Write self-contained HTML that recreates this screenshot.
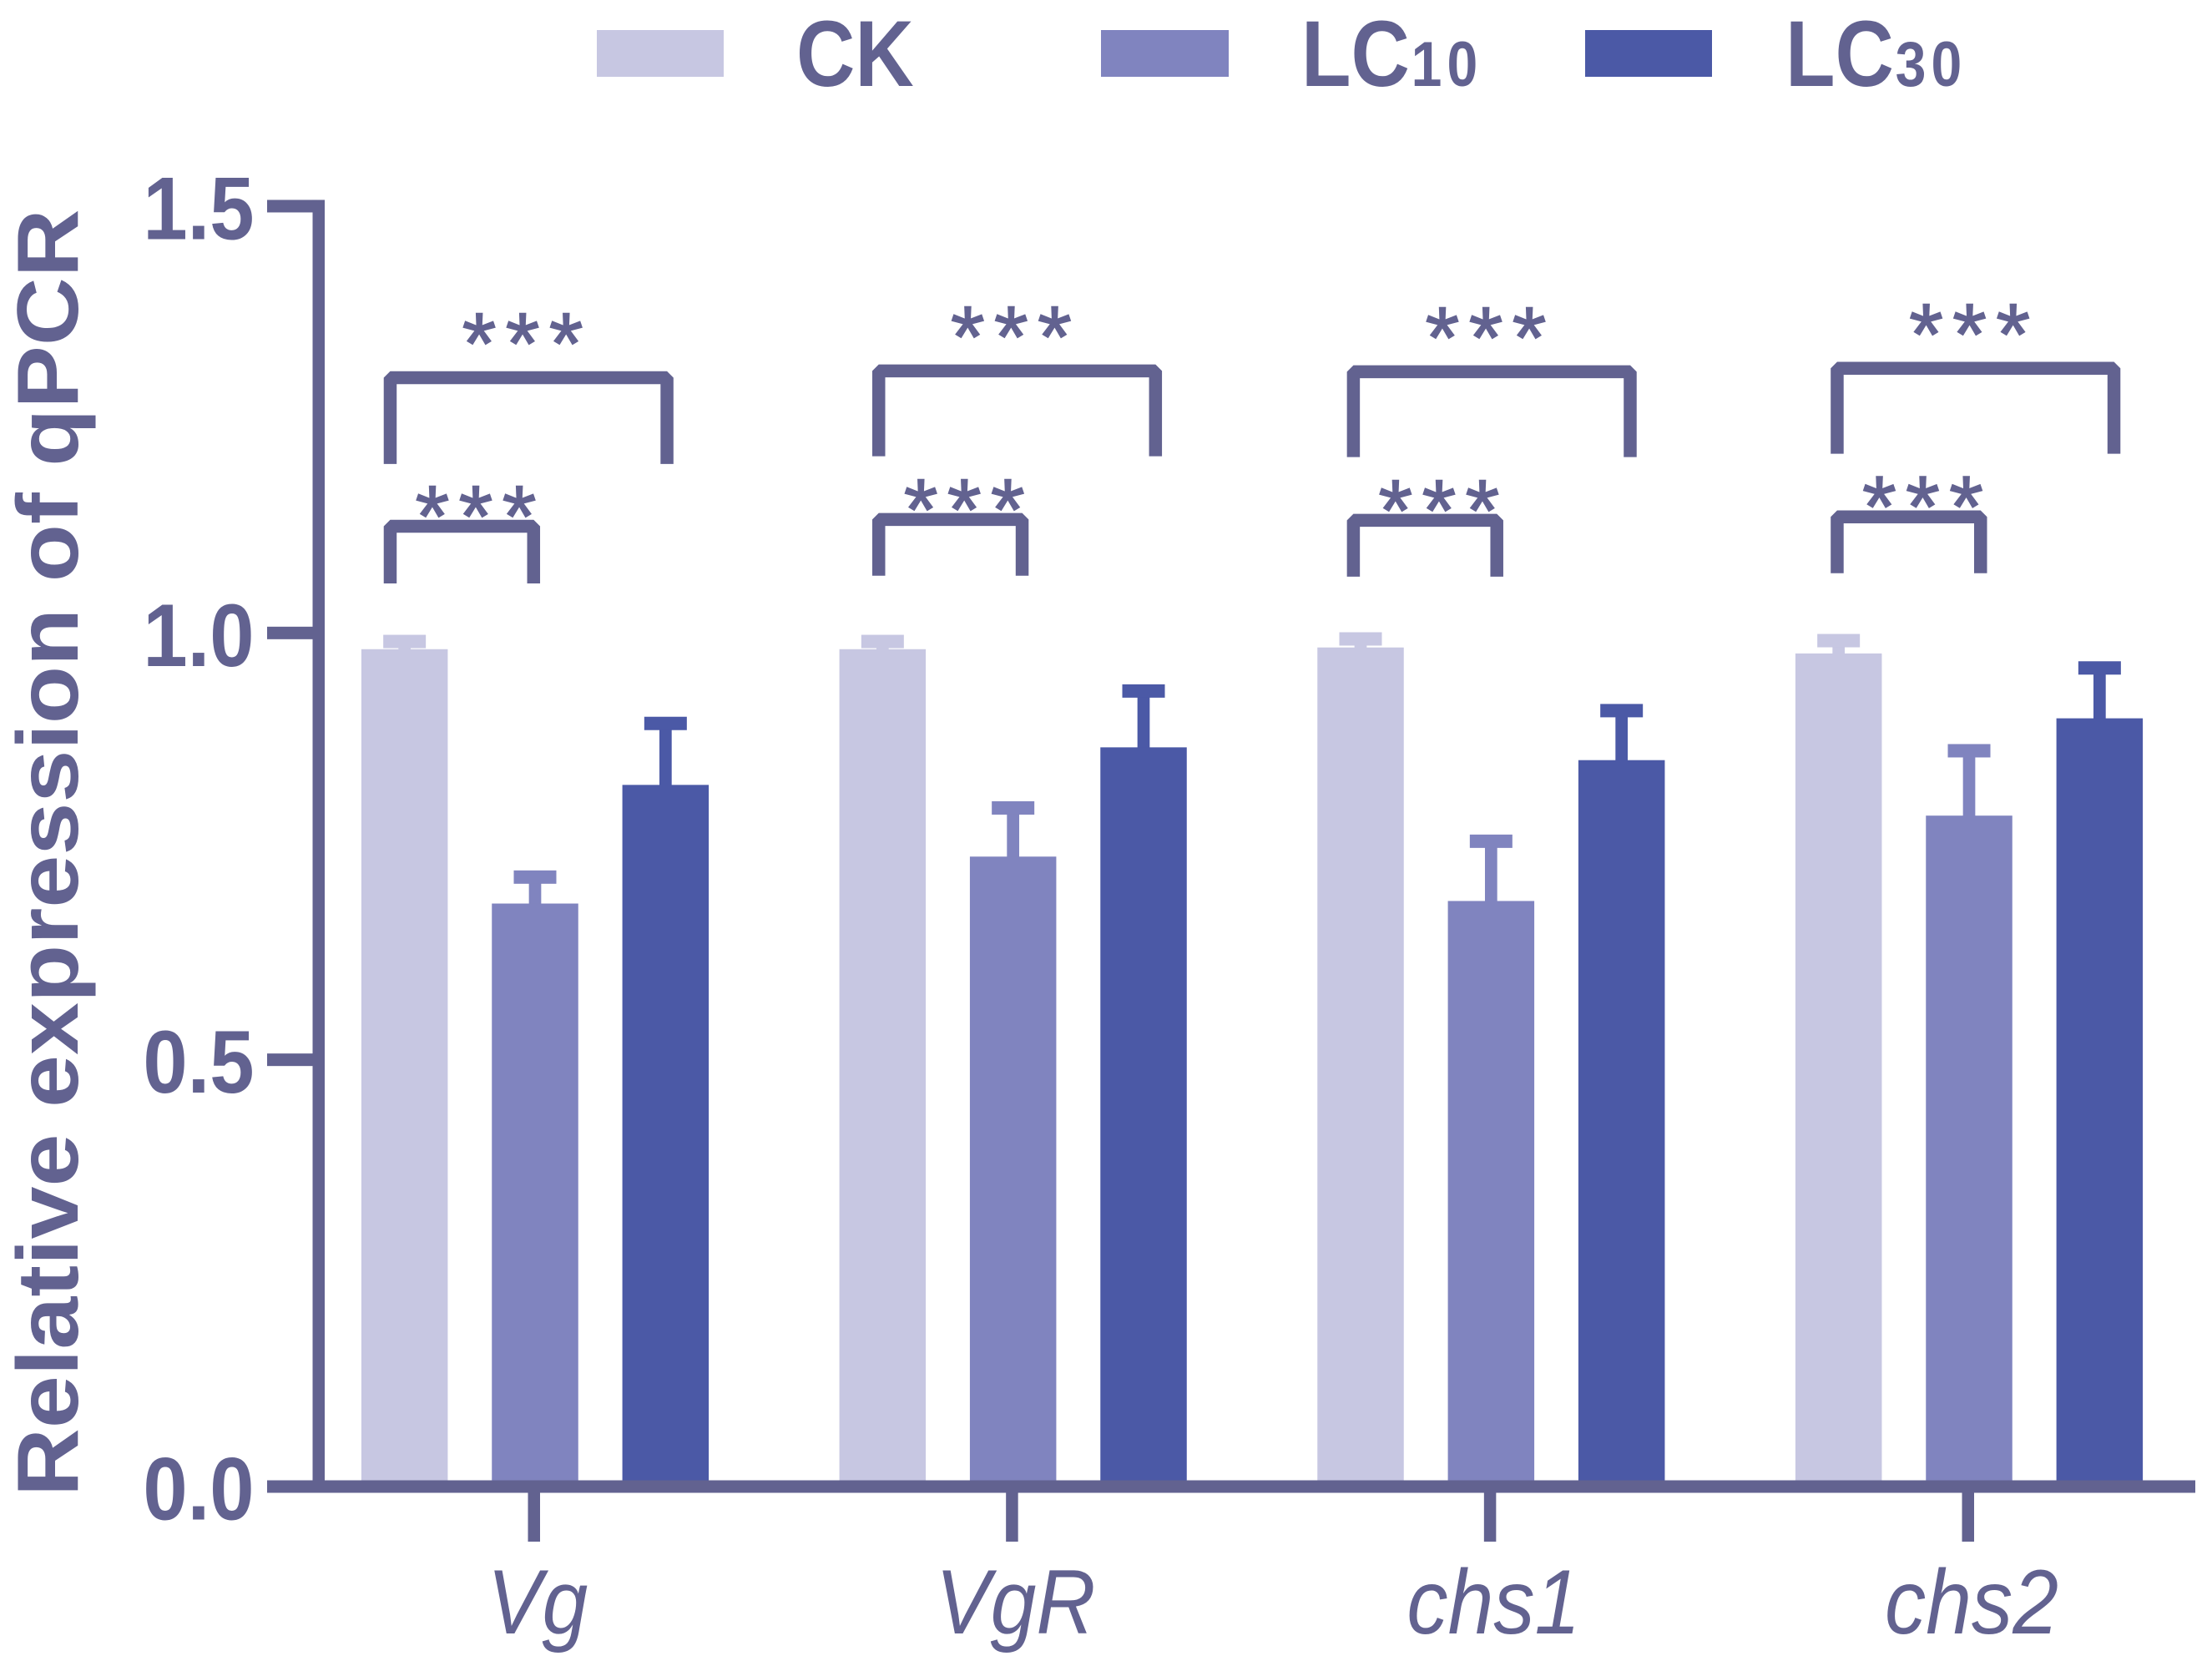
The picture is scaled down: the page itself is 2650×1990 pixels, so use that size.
<!DOCTYPE html>
<html lang="en">
<head>
<meta charset="utf-8">
<title>Relative expression of qPCR</title>
<style>
html,body{margin:0;padding:0;background:#fff;}
svg{display:block;}
text{font-family:"Liberation Sans",sans-serif;fill:#626290;}
</style>
</head>
<body>
<svg id="chart" xmlns="http://www.w3.org/2000/svg" width="2650" height="1990" viewBox="0 0 2650 1990">
  <rect x="0" y="0" width="2650" height="1990" fill="#ffffff"/>
  <g>
    <g>
      <rect x="715" y="36" width="152" height="56" fill="#c7c7e2"/>
      <text transform="translate(954,103) scale(0.87,1)" font-size="112" font-weight="700">CK</text>
    </g>
    <g>
      <rect x="1319" y="36" width="153" height="56" fill="#8084bf"/>
      <text transform="translate(1559,103) scale(0.87,1)" font-size="112" font-weight="700">LC<tspan font-size="76" dx="2" letter-spacing="7">10</tspan></text>
    </g>
    <g>
      <rect x="1899" y="36" width="152" height="56" fill="#4b59a6"/>
      <text transform="translate(2139,103) scale(0.87,1)" font-size="112" font-weight="700">LC<tspan font-size="76" dx="2" letter-spacing="7">30</tspan></text>
    </g>
  </g>
  <text transform="translate(93,1793) rotate(-90) scale(1,0.92)" font-size="113.3" font-weight="700">Relative expression of qPCR</text>
  <g id="marks"></g>
  <g id="annotations"></g>
  <g id="axes"></g>
</svg>
<script>
const categories = ['Vg', 'VgR', 'chs1', 'chs2'];
const seriesNames = ['CK', 'LC10', 'LC30'];
const ckValues = [0.981, 0.981, 0.983, 0.976];
const lc10Values = [0.683, 0.738, 0.686, 0.786];
const lc30Values = [0.822, 0.866, 0.851, 0.900];
const ckErrors = [0.009, 0.009, 0.010, 0.015];
const lc10Errors = [0.031, 0.057, 0.070, 0.076];
const lc30Errors = [0.072, 0.066, 0.058, 0.059];
const yTicks = [0, 0.5, 1.0, 1.5];
const yTickLabels = ['0.0', '0.5', '1.0', '1.5'];
const upperBracketLevels = [1.299, 1.307, 1.306, 1.310];
const upperBracketEnds = [1.198, 1.207, 1.206, 1.210];
const lowerBracketLevels = [1.125, 1.133, 1.132, 1.136];
const lowerBracketEnds = [1.058, 1.067, 1.066, 1.070];
const bracketStarts = [-0.303, -0.281, -0.288, -0.276];
const significanceMark = '***';

const seriesValues = [ckValues, lc10Values, lc30Values];
const seriesErrors = [ckErrors, lc10Errors, lc30Errors];
const seriesColors = ['#c7c7e2', '#8084bf', '#4b59a6'];
const AXIS = '#626290';
const NS = 'http://www.w3.org/2000/svg';

function x(g) { return 641 + g * 572.67; }
function y(v) { return 1781 - v * 1022.67; }
const barStep = 0.273;
const barWidth = 103.5;
const capWidth = 51;
const capHeight = 16;
const stemWidth = 14.7;
const starSize = 105;
const starSpacing = 11.2;

function make(tag, attrs, parent) {
  const el = document.createElementNS(NS, tag);
  for (const k in attrs) el.setAttribute(k, attrs[k]);
  parent.appendChild(el);
  return el;
}

const marks = document.getElementById('marks');
const annotations = document.getElementById('annotations');
const axes = document.getElementById('axes');

categories.forEach(function (cat, g) {
  seriesNames.forEach(function (name, s) {
    const cx = x(g + (s - 1) * barStep);
    const v = seriesValues[s][g];
    const capY = y(v + seriesErrors[s][g]);
    const color = seriesColors[s];

    const stem = make('rect', {x: cx - stemWidth / 2, y: capY, width: stemWidth, height: y(v) - capY + 1, fill: color}, marks);
    
    

    const cap = make('rect', {x: cx - capWidth / 2, y: capY - capHeight / 2, width: capWidth, height: capHeight, fill: color}, marks);
    
    

    const bar = make('rect', {x: cx - barWidth / 2, y: y(v), width: barWidth, height: y(0) - y(v), fill: color}, marks);
    
    
  });

  const left = g + bracketStarts[g];
  const upperSpan = 0.579;
  const lowerSpan = 0.3;

  const upper = make('path', {
    d: 'M' + x(left) + ' ' + y(upperBracketEnds[g]) + ' V' + y(upperBracketLevels[g]) + ' H' + x(left + upperSpan) + ' V' + y(upperBracketEnds[g]),
    fill: 'none', stroke: AXIS, 'stroke-width': 15.5, 'stroke-linejoin': 'bevel', 'stroke-linecap': 'butt'
  }, annotations);
  
  

  const lower = make('path', {
    d: 'M' + x(left) + ' ' + y(lowerBracketEnds[g]) + ' V' + y(lowerBracketLevels[g]) + ' H' + x(left + lowerSpan) + ' V' + y(lowerBracketEnds[g]),
    fill: 'none', stroke: AXIS, 'stroke-width': 15.5, 'stroke-linejoin': 'bevel', 'stroke-linecap': 'butt'
  }, annotations);
  
  

  const upperStars = make('text', {
    x: x(left + 0.277) + starSpacing / 2, y: y(upperBracketLevels[g]) - 5, 'text-anchor': 'middle',
    'font-size': starSize, 'letter-spacing': starSpacing, stroke: AXIS, 'stroke-width': 1.5
  }, annotations);
  upperStars.textContent = significanceMark;
  
  

  const lowerStars = make('text', {
    x: x(left + 0.179) + starSpacing / 2, y: y(lowerBracketLevels[g]) + 24, 'text-anchor': 'middle',
    'font-size': starSize, 'letter-spacing': starSpacing, stroke: AXIS, 'stroke-width': 1.5
  }, annotations);
  lowerStars.textContent = significanceMark;
  
  

  const tick = make('rect', {x: x(g) - 8.5, y: y(0), width: 14.5, height: 66, fill: AXIS}, axes);
  
  

  const lx = x(g) + 3;
  const label = make('text', {
    transform: 'translate(' + lx + ',1957) scale(0.895,1)', 'text-anchor': 'middle',
    'font-size': 110, 'font-style': 'italic'
  }, axes);
  label.textContent = cat;
  
  
});

const yLine = make('rect', {x: 374.5, y: y(1.5) - 7.5, width: 14.5, height: y(0) - y(1.5) + 15, fill: AXIS}, axes);



const xLine = make('rect', {x: 320, y: y(0) - 7.5, width: 2310, height: 15, fill: AXIS}, axes);



yTicks.forEach(function (t, i) {
  const tick = make('rect', {x: 320, y: y(t) - 7.5, width: 60, height: 15, fill: AXIS}, axes);
  
  

  const label = make('text', {
    transform: 'translate(304.5,' + (y(t) + 39.5) + ') scale(0.895,1)', 'text-anchor': 'end',
    'font-size': 107, 'font-weight': 700
  }, axes);
  label.textContent = yTickLabels[i];
  
  
});
</script>
</body>
</html>
